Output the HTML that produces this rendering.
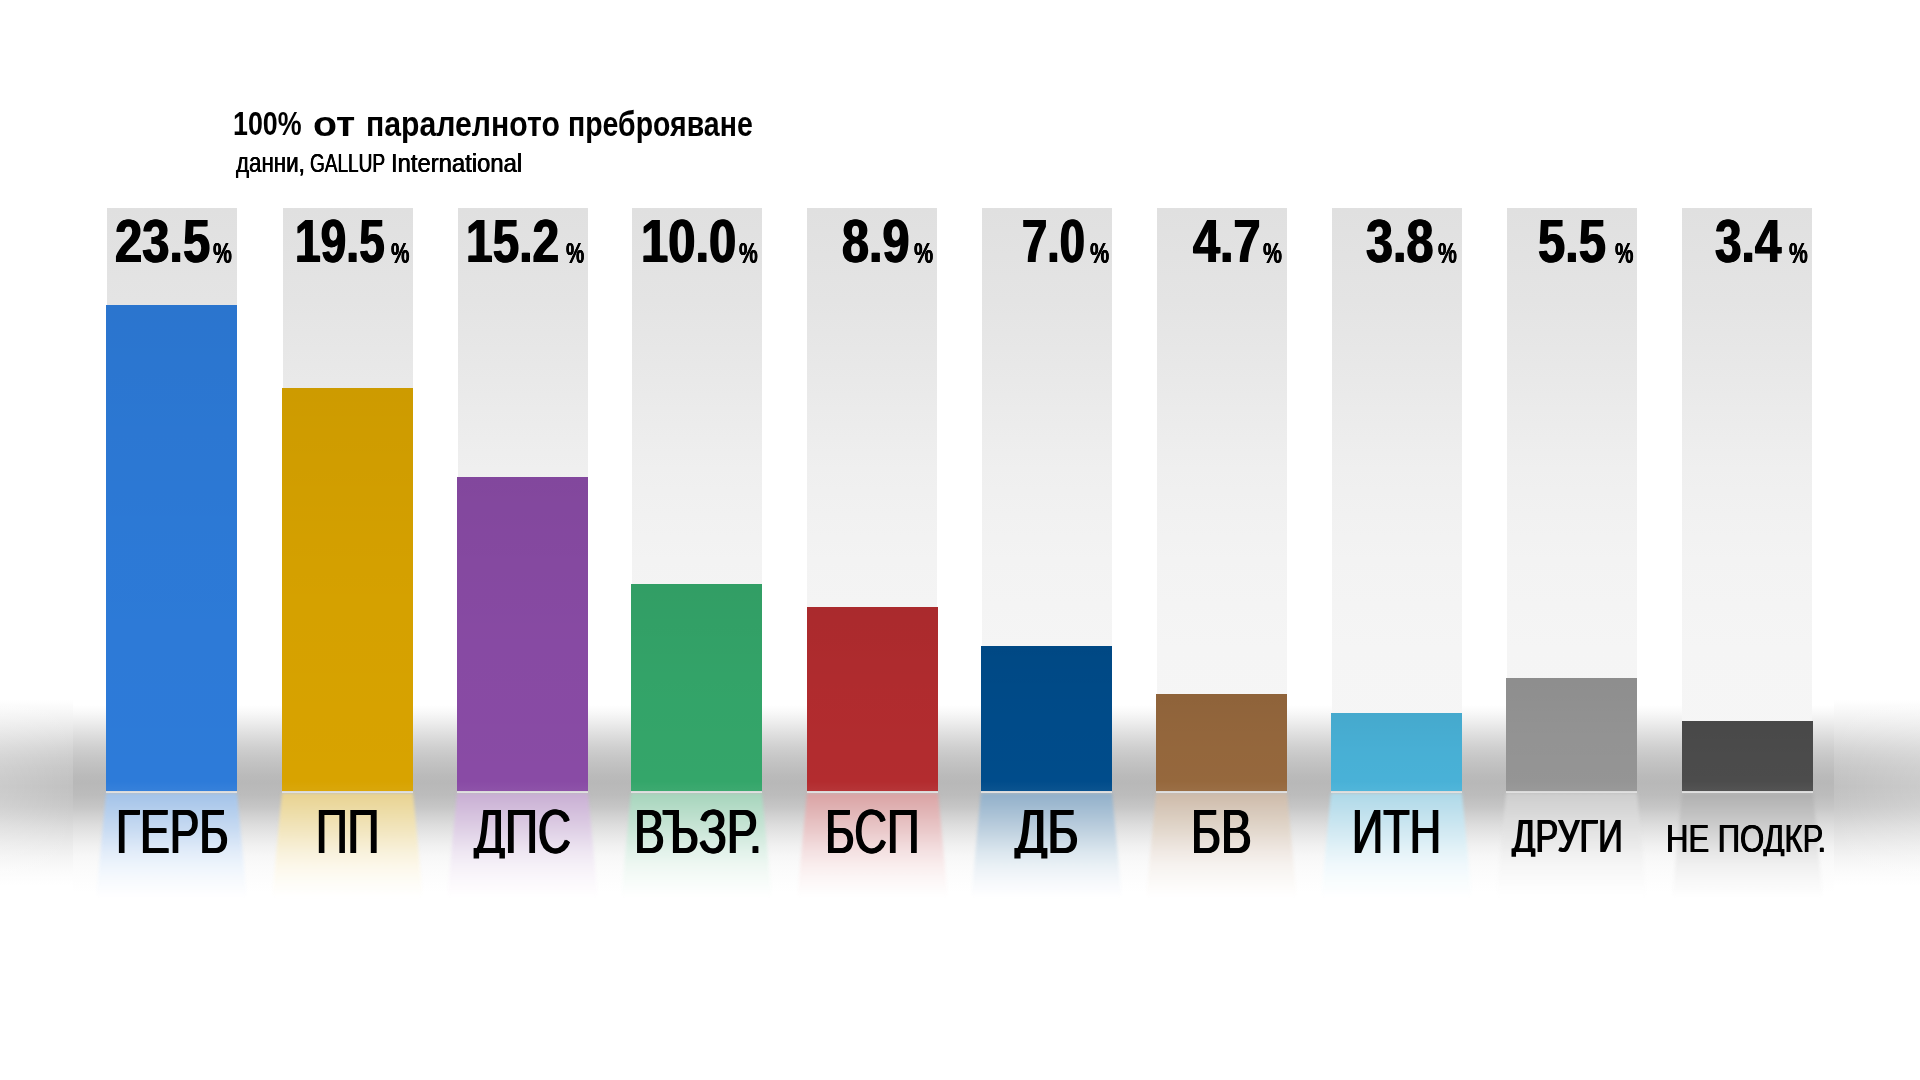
<!DOCTYPE html><html lang="bg"><head><meta charset="utf-8"><title>Паралелно преброяване</title><style>
html,body{margin:0;padding:0;background:#fff;overflow:hidden}
#stage{position:relative;width:1920px;height:1080px;overflow:hidden;background:#fff;font-family:"Liberation Sans",sans-serif;color:#000}
#stage div,#stage span{position:absolute;display:block}
.t{white-space:nowrap;line-height:1;transform-origin:0 0;color:#000}
.num,.pct,.title{font-weight:700}
.lbl,.sub{font-weight:400}
.num{text-shadow:0.9px 0 #000,-0.9px 0 #000;}
.pct{text-shadow:0.5px 0 #000,-0.5px 0 #000;}
.lbl{text-shadow:1.15px 0 #000,-1.15px 0 #000;}
.sub{text-shadow:0.4px 0 #000,-0.4px 0 #000;}
.sh-side{top:680px;height:216px;background:linear-gradient(to bottom,#ffffff 20px,#f9f9f9 29px,#f1f1f1 39px,#e8e8e8 49px,#dedede 59px,#d5d5d5 68px,#cdcdcd 78px,#c7c7c7 88px,#c3c3c3 98px,#c1c1c1 107px,#c4c4c4 117px,#c9c9c9 127px,#d1d1d1 136px,#dbdbdb 146px,#e4e4e4 156px,#ececec 166px,#f3f3f3 176px,#f8f8f8 185px,#fcfcfc 195px,#ffffff 206px)}
.sh-mid{left:73px;width:1761px;top:680px;height:216px;background:linear-gradient(to bottom,#ffffff 25px,#f9f9f9 32px,#f0f0f0 40px,#e5e5e5 49px,#d9d9d9 59px,#cfcfcf 68px,#c6c6c6 78px,#bfbfbf 88px,#bababa 96px,#b8b8b8 103px,#bcbcbc 115px,#c6c6c6 127px,#d2d2d2 136px,#dedede 146px,#e8e8e8 156px,#f1f1f1 166px,#f7f7f7 176px,#fafafa 185px,#fdfdfd 200px,#ffffff 212px)}
.bg{top:208px;height:584px;width:130px;background:linear-gradient(to bottom,#e0e0e0 0px,#e4e4e4 92px,#e9e9e9 172px,#efefef 260px,#f3f3f3 352px,#f5f5f5 440px,#f6f6f6 584px)}
.bar{width:131px}
.sh-side i{position:absolute;left:0;top:0;right:0;bottom:0}
.bar i{position:absolute;left:0;top:0;right:0;bottom:0;background:linear-gradient(to top,rgba(255,255,255,.045),rgba(255,255,255,0) 10px),linear-gradient(to bottom,rgba(0,0,0,.05),rgba(0,0,0,.015) 50%,rgba(0,0,0,0))}
.line{height:2px;top:791px;width:131px;background:linear-gradient(to bottom,#d6d6d6,#e4e4e4)}
.refl{top:793px;height:106px;width:151px;filter:blur(1.4px)}
.refl b{position:absolute;left:0;top:0;width:151px;height:106px;clip-path:polygon(10px 0,141px 0,151px 106px,0 106px)}
</style></head><body><div id="stage">
<div class="sh-side" style="left:0;width:73px"><i style="background:linear-gradient(to right,rgba(255,255,255,.16),rgba(255,255,255,0))"></i></div><div class="sh-side" style="left:1834px;width:86px"><i style="background:linear-gradient(to left,rgba(255,255,255,.16),rgba(255,255,255,0))"></i></div><div class="sh-mid"></div>
<div class="bg" style="left:107px"></div>
<div class="refl" style="left:96px"><b style="background:linear-gradient(to bottom,#a2c2e8 0px,#c5d9f1 34px,#e2ecf9 59px,#edf4fc 72px,#f6f9fd 86px,#fbfcfe 96px,#ffffff 105px)"></b></div>
<div class="bar" style="left:106px;top:305px;height:486px;background:#2d7bd9"><i></i></div>
<div class="line" style="left:106px"></div>
<span class="t num" style="left:114.95px;top:211.01px;font-size:61.17px;transform:scaleX(0.7996)">23.5</span><span class="t pct" style="left:213.0px;top:238.6px;font-size:28.82px;transform:scaleX(0.736)">%</span><span class="t lbl" style="left:116.13px;top:801.35px;font-size:62.06px;transform:scaleX(0.7169)">ГЕРБ</span>
<div class="bg" style="left:283px"></div>
<div class="refl" style="left:272px"><b style="background:linear-gradient(to bottom,#e8d290 0px,#f1e4ba 34px,#f8f1db 59px,#fcf7e9 72px,#fdfbf4 86px,#fefdfa 96px,#ffffff 105px)"></b></div>
<div class="bar" style="left:282px;top:388px;height:403px;background:#d8a300"><i></i></div>
<div class="line" style="left:282px"></div>
<span class="t num" style="left:295.24px;top:211.01px;font-size:61.17px;transform:scaleX(0.7539)">19.5</span><span class="t pct" style="left:391.2px;top:238.6px;font-size:28.82px;transform:scaleX(0.72)">%</span><span class="t lbl" style="left:315.86px;top:801.35px;font-size:62.06px;transform:scaleX(0.7099)">ПП</span>
<div class="bg" style="left:458px"></div>
<div class="refl" style="left:447px"><b style="background:linear-gradient(to bottom,#c8aed3 0px,#ddcde4 34px,#eee6f2 59px,#f5f0f7 72px,#faf7fb 86px,#fdfbfd 96px,#ffffff 105px)"></b></div>
<div class="bar" style="left:457px;top:477px;height:314px;background:#894ba5"><i></i></div>
<div class="line" style="left:457px"></div>
<span class="t num" style="left:466.45px;top:211.01px;font-size:61.17px;transform:scaleX(0.7826)">15.2</span><span class="t pct" style="left:565.5px;top:238.6px;font-size:28.82px;transform:scaleX(0.712)">%</span><span class="t lbl" style="left:474.04px;top:801.35px;font-size:62.06px;transform:scaleX(0.7382);clip-path:inset(-9px -9px 5.01px -9px)">ДПС</span>
<div class="bg" style="left:632px"></div>
<div class="refl" style="left:621px"><b style="background:linear-gradient(to bottom,#a5d4bb 0px,#c7e4d5 34px,#e2f2ea 59px,#eef7f2 72px,#f6fbf8 86px,#fbfdfc 96px,#ffffff 105px)"></b></div>
<div class="bar" style="left:631px;top:584px;height:207px;background:#34a66a"><i></i></div>
<div class="line" style="left:631px"></div>
<span class="t num" style="left:640.6px;top:211.01px;font-size:61.17px;transform:scaleX(0.8)">10.0</span><span class="t pct" style="left:739.2px;top:238.6px;font-size:28.82px;transform:scaleX(0.732)">%</span><span class="t lbl" style="left:633.72px;top:801.35px;font-size:62.06px;transform:scaleX(0.746)">ВЪЗР.</span>
<div class="bg" style="left:807px"></div>
<div class="refl" style="left:797px"><b style="background:linear-gradient(to bottom,#d9a2a3 0px,#e8c5c6 34px,#f4e1e2 59px,#f9eded 72px,#fcf6f6 86px,#fdfbfb 96px,#ffffff 105px)"></b></div>
<div class="bar" style="left:807px;top:607px;height:184px;background:#b32c2f"><i></i></div>
<div class="line" style="left:807px"></div>
<span class="t num" style="left:842.21px;top:211.01px;font-size:61.17px;transform:scaleX(0.7928)">8.9</span><span class="t pct" style="left:913.8px;top:238.6px;font-size:28.82px;transform:scaleX(0.748)">%</span><span class="t lbl" style="left:824.58px;top:801.35px;font-size:62.06px;transform:scaleX(0.7311)">БСП</span>
<div class="bg" style="left:982px"></div>
<div class="refl" style="left:971px"><b style="background:linear-gradient(to bottom,#90afc9 0px,#bacddd 34px,#dbe6ee 59px,#e9f0f5 72px,#f4f7fa 86px,#fafbfd 96px,#ffffff 105px)"></b></div>
<div class="bar" style="left:981px;top:646px;height:145px;background:#004c8b"><i></i></div>
<div class="line" style="left:981px"></div>
<span class="t num" style="left:1022.22px;top:211.01px;font-size:61.17px;transform:scaleX(0.7407)">7.0</span><span class="t pct" style="left:1090.0px;top:238.6px;font-size:28.82px;transform:scaleX(0.748)">%</span><span class="t lbl" style="left:1014.97px;top:801.35px;font-size:62.06px;transform:scaleX(0.7683);clip-path:inset(-9px -9px 5.01px -9px)">ДБ</span>
<div class="bg" style="left:1157px"></div>
<div class="refl" style="left:1146px"><b style="background:linear-gradient(to bottom,#cdbaa9 0px,#e0d5c9 34px,#f0e9e4 59px,#f6f2ef 72px,#faf8f6 86px,#fdfcfb 96px,#ffffff 105px)"></b></div>
<div class="bar" style="left:1156px;top:694px;height:97px;background:#96683d"><i></i></div>
<div class="line" style="left:1156px"></div>
<span class="t num" style="left:1193.3px;top:211.01px;font-size:61.17px;transform:scaleX(0.794)">4.7</span><span class="t pct" style="left:1262.8px;top:238.6px;font-size:28.82px;transform:scaleX(0.74)">%</span><span class="t lbl" style="left:1190.84px;top:801.35px;font-size:62.06px;transform:scaleX(0.7395)">БВ</span>
<div class="bg" style="left:1332px"></div>
<div class="refl" style="left:1321px"><b style="background:linear-gradient(to bottom,#aed8e8 0px,#cde7f1 34px,#e5f3f8 59px,#f0f8fc 72px,#f7fcfd 86px,#fbfdfe 96px,#ffffff 105px)"></b></div>
<div class="bar" style="left:1331px;top:713px;height:78px;background:#49b2d8"><i></i></div>
<div class="line" style="left:1331px"></div>
<span class="t num" style="left:1365.91px;top:211.01px;font-size:61.17px;transform:scaleX(0.7928)">3.8</span><span class="t pct" style="left:1438.3px;top:238.6px;font-size:28.82px;transform:scaleX(0.736)">%</span><span class="t lbl" style="left:1351.7px;top:801.35px;font-size:62.06px;transform:scaleX(0.6992)">ИТН</span>
<div class="bg" style="left:1507px"></div>
<div class="refl" style="left:1496px"><b style="background:linear-gradient(to bottom,#cdcdcd 0px,#e0e0e0 34px,#efefef 59px,#f6f6f6 72px,#fafafa 86px,#fdfdfd 96px,#ffffff 105px)"></b></div>
<div class="bar" style="left:1506px;top:678px;height:113px;background:#959595"><i></i></div>
<div class="line" style="left:1506px"></div>
<span class="t num" style="left:1538.0px;top:211.01px;font-size:61.17px;transform:scaleX(0.7976)">5.5</span><span class="t pct" style="left:1615.3px;top:238.6px;font-size:28.82px;transform:scaleX(0.72)">%</span><span class="t lbl" style="left:1512.2px;top:814.14px;font-size:45.78px;transform:scaleX(0.7521);text-shadow:0.85px 0 #000,-0.85px 0 #000;clip-path:inset(-9px -9px 3.12px -9px)">ДРУГИ</span>
<div class="bg" style="left:1682px"></div>
<div class="refl" style="left:1672px"><b style="background:linear-gradient(to bottom,#afafaf 0px,#cdcdcd 34px,#e6e6e6 59px,#f0f0f0 72px,#f7f7f7 86px,#fbfbfb 96px,#ffffff 105px)"></b></div>
<div class="bar" style="left:1682px;top:721px;height:70px;background:#4c4c4c"><i></i></div>
<div class="line" style="left:1682px"></div>
<span class="t num" style="left:1714.52px;top:211.01px;font-size:61.17px;transform:scaleX(0.7812)">3.4</span><span class="t pct" style="left:1789.2px;top:238.6px;font-size:28.82px;transform:scaleX(0.732)">%</span><span class="t lbl" style="left:1666.45px;top:819.3px;font-size:39.68px;transform:scaleX(0.7824);text-shadow:0.6px 0 #000,-0.6px 0 #000;clip-path:inset(-9px -9px 2.68px -9px)">НЕ ПОДКР.</span>
<span class="t title" style="left:233.4px;top:107.02px;font-size:33.4px;transform:scaleX(0.8024)">100%</span><span class="t title" style="left:312.57px;top:105.67px;font-size:35.0px;transform:scaleX(1.12)">от</span><span class="t title" style="left:365.77px;top:105.67px;font-size:35.0px;transform:scaleX(0.8629)">паралелното</span><span class="t title" style="left:567.87px;top:105.67px;font-size:35.0px;transform:scaleX(0.8138)">преброяване</span>
<span class="t sub" style="left:235.9px;top:148.79px;font-size:27.3px;transform:scaleX(0.8183)">данни,</span><span class="t sub" style="left:310.27px;top:149.72px;font-size:26.2px;transform:scaleX(0.7265)">GALLUP</span><span class="t sub" style="left:390.89px;top:149.55px;font-size:26.4px;transform:scaleX(0.9028)">International</span>
</div></body></html>
